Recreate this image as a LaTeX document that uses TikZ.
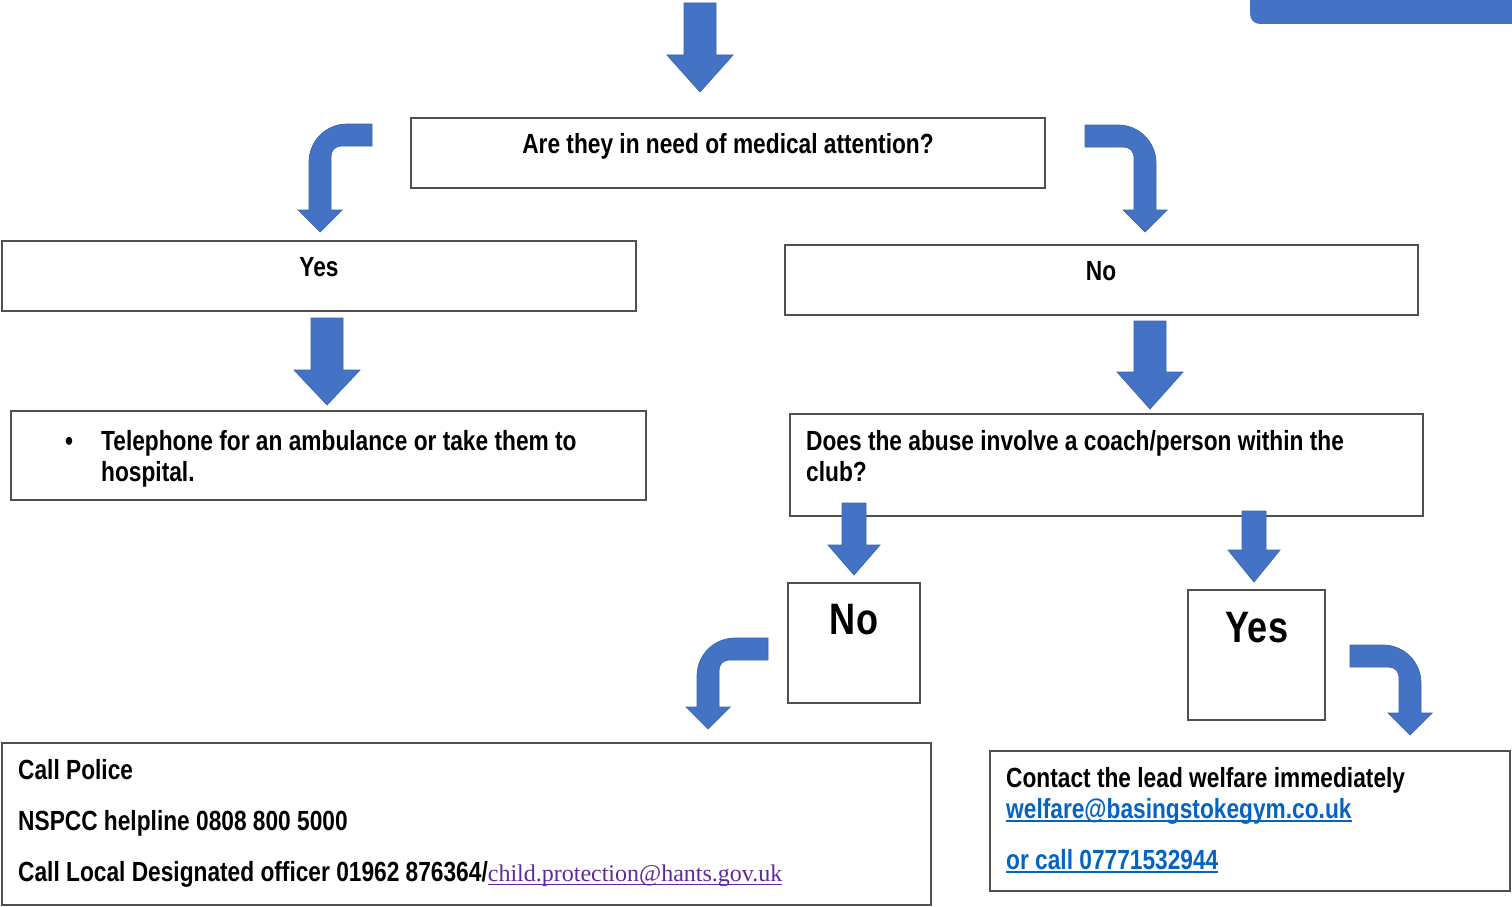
\documentclass[tikz,border=0pt]{standalone}
\usepackage{fontspec}
\setmainfont{Liberation Sans}[FakeStretch=0.82]
\newfontfamily\linkserif{Liberation Serif}
\definecolor{arrowblue}{HTML}{4472C4}
\definecolor{arrowedge}{HTML}{3A64B0}
\definecolor{linkblue}{HTML}{0563C1}
\definecolor{linkpurple}{HTML}{5E2A96}
\definecolor{boxline}{HTML}{505050}
\newcommand\myul[2]{\setbox0\hbox{#2}\rlap{\rule[-3.5pt]{\wd0}{#1}}\box0}
% straight down block arrow: cx, ytop, yhead, ytip, shaft half width, head half width
\newcommand\sarrow[6]{\path[blk] ({#1-#5},#2) -- ({#1+#5},#2) -- ({#1+#5},#3) -- ({#1+#6},#3) -- (#1,#4) -- ({#1-#6},#3) -- ({#1-#5},#3) -- cycle;}
% bent block arrow: tip x, tip y, mirror (1/-1), tail length, height
\newcommand\barrow[5]{\begin{scope}[shift={(#1,#2)},xscale=#3]
\path[blk] (#4,-#5) -- (27,-#5) .. controls (6,-#5) and (-11,{-#5+17}) .. (-11,{-#5+38}) -- (-11,-22) -- (-22,-22) -- (0,0) -- (22,-22) -- (11,-22) -- (11,{-#5+32}) .. controls (11,{-#5+26.5}) and (15.5,{-#5+22}) .. (21,{-#5+22}) -- (#4,{-#5+22}) -- cycle;
\end{scope}}
\tikzset{
  box/.style={draw=boxline, line width=1.6pt, rectangle, inner sep=0pt, outer sep=0pt, anchor=north west},
  blk/.style={fill=arrowblue, draw=arrowedge, line width=0.7pt},
  txt/.style={font=\bfseries\fontsize{27.7}{33}\selectfont, inner sep=0pt, anchor=base west},
  ctxt/.style={txt, anchor=base},
  bigtxt/.style={font=\bfseries\fontsize{44}{50}\selectfont, inner sep=0pt, anchor=base},
}
\begin{document}
\begin{tikzpicture}[x=1pt,y=-1pt]
\path[use as bounding box] (0,0) rectangle (1512,907);
\clip (0,0) rectangle (1512,907);
% top-right tab
\fill[arrowblue] (1250,-20) [rounded corners=10pt] -- (1250,24) -- (1540,24) [sharp corners] -- (1540,-20) -- cycle;
% boxes
\node[box, minimum width=634pt, minimum height=70pt] (q1) at (411,118) {};
\node[box, minimum width=634pt, minimum height=70pt] (yes1) at (2,241) {};
\node[box, minimum width=633pt, minimum height=70pt] (no1) at (785,245) {};
\node[box, minimum width=635pt, minimum height=89pt] (tel) at (11,411) {};
\node[box, minimum width=633pt, minimum height=102pt] (does) at (790,414) {};
\node[box, minimum width=132pt, minimum height=120pt] (no2) at (788,583) {};
\node[box, minimum width=137pt, minimum height=130pt] (yes2) at (1188,590) {};
\node[box, minimum width=929pt, minimum height=162pt] (police) at (2,743) {};
\node[box, minimum width=520pt, minimum height=140pt] (contact) at (990,751) {};
% texts
\node[ctxt] (tq1) at (728,153) {Are they in need of medical attention?};
\node[ctxt] (tyes1) at (319,276) {Yes};
\node[ctxt] (tno1) at (1101,280) {No};
\node[ctxt] (bul) at (69,450) {•};
\node[txt] (tel1) at (101,450) {Telephone for an ambulance or take them to};
\node[txt] (tel2) at (101,481) {hospital.};
\node[txt] (does1) at (806,450) {Does the abuse involve a coach/person within the};
\node[txt] (does2) at (806,481) {club?};
\node[bigtxt] (tno2) at (854,634) {No};
\node[bigtxt] (tyes2) at (1257,642) {Yes};
\node[txt] (pol1) at (18,779) {Call Police};
\node[txt] (pol2) at (18,830) {NSPCC helpline 0808 800 5000};
\node[txt] (pol3) at (18,881) {Call Local Designated officer 01962 876364/{\linkserif\mdseries\fontsize{24}{28}\selectfont\color{linkpurple}\myul{1pt}{child.protection@hants.gov.uk}}};
\node[txt] (con1) at (1006,787) {Contact the lead welfare immediately};
\node[txt, text=linkblue] (con2) at (1006,818) {\myul{1.8pt}{welfare@basingstokegym.co.uk}};
\node[txt, text=linkblue] (con3) at (1006,869) {\myul{1.8pt}{or call 07771532944}};
% arrows
\sarrow{700}{3}{55}{92}{16}{33}
\sarrow{327}{318}{370}{405}{16}{33}
\sarrow{1150}{321}{372}{409}{16}{33}
\sarrow{854}{503}{545}{575}{12}{26}
\sarrow{1254}{511}{550}{582}{12}{26}
\barrow{320}{232}{1}{52}{108}
\barrow{1145}{232}{-1}{60}{107}
\barrow{708}{729}{1}{60}{91}
\barrow{1410}{735}{-1}{60}{90}
\end{tikzpicture}
\end{document}
